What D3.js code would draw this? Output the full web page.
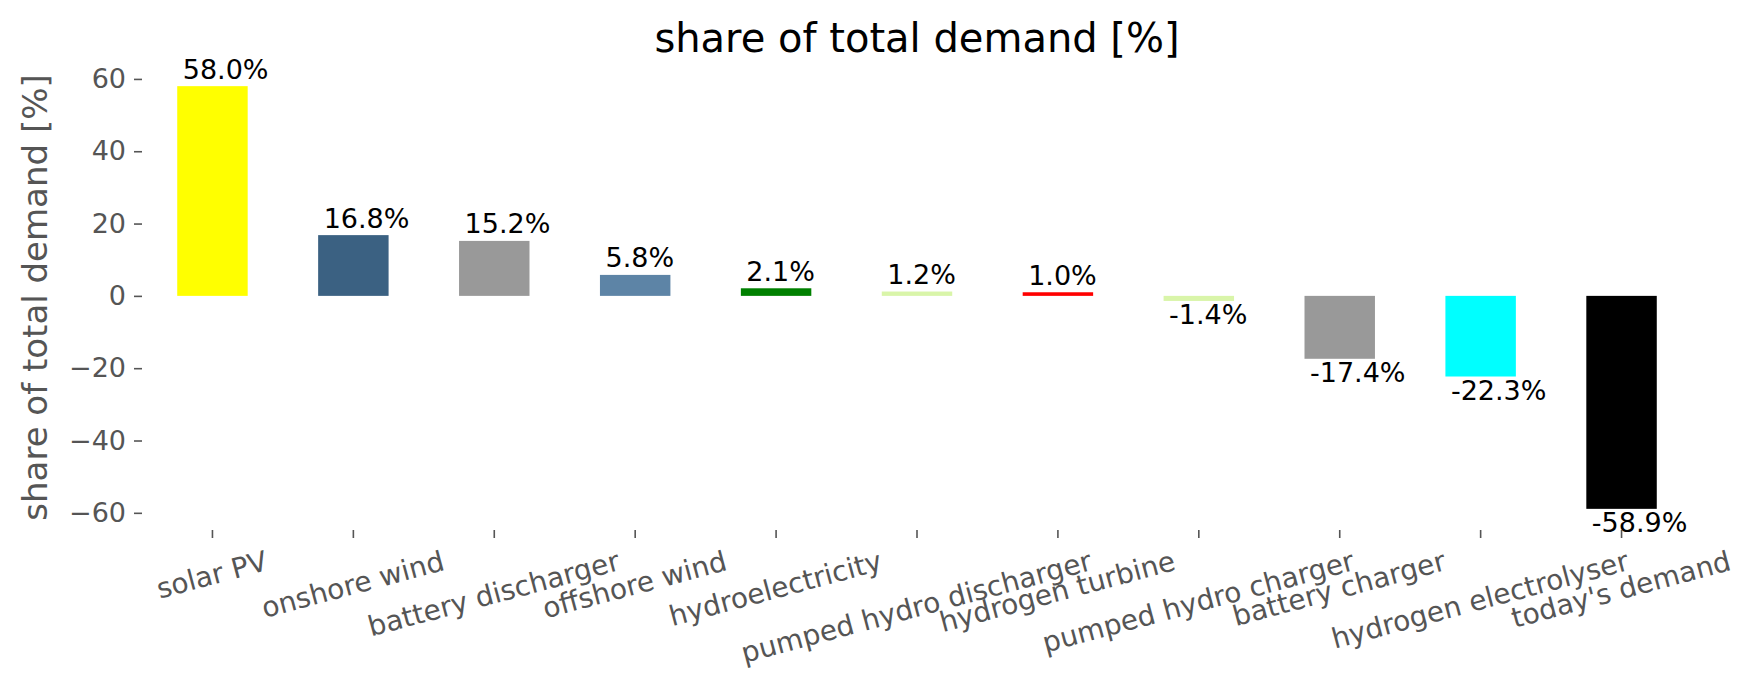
<!DOCTYPE html>
<html>
<head>
<meta charset="utf-8">
<script src="https://cdn.jsdelivr.net/npm/d3@7"></script>
<style>
  body { margin: 0; background: #fff; }
  svg { font-family: "DejaVu Sans", sans-serif; }
</style>
</head>
<body>
<svg width="1753" height="689"></svg>
<script>
// set data

const categories = ["solar PV", "onshore wind", "battery discharger", "offshore wind",
  "hydroelectricity", "pumped hydro discharger", "hydrogen turbine",
  "pumped hydro charger", "battery charger", "hydrogen electrolyser", "today's demand"];
const shares = [58.0, 16.8, 15.2, 5.8, 2.1, 1.2, 1.0, -1.4, -17.4, -22.3, -58.9];
const colors = ["#ffff00", "#3b6182", "#999999", "#5d84a6", "#008000", "#d9f5a9",
  "#ff0000", "#d9f5a9", "#999999", "#00ffff", "#000000"];
const yTicks = [-60, -40, -20, 0, 20, 40, 60];

// dimensions

const plotLeft = 142, plotRight = 1692, plotTop = 65, plotBottom = 530;
const gray = "#555555";

const svg = d3.select("svg");

// scales

const x = d3.scaleBand()
  .domain(categories)
  .range([plotLeft, plotRight])
  .paddingInner(0.5)
  .paddingOuter(0.25);

const y = d3.scaleLinear()
  .domain([-64.75, 63.85])
  .range([plotBottom, plotTop]);

// y axis

const yAxis = svg.append("g")
  .attr("transform", `translate(${plotLeft},0)`)
  .call(d3.axisLeft(y).tickValues(yTicks).tickSize(8).tickPadding(8));
yAxis.select(".domain").remove();
yAxis.selectAll("line").attr("stroke", gray).attr("stroke-width", 1.6);
yAxis.selectAll("text")
  .attr("fill", gray)
  .style("font-size", "27px")
  .style("font-family", "DejaVu Sans");

// x axis (ticks only, labels placed by hand below)

const xAxis = svg.append("g")
  .attr("transform", `translate(0,${plotBottom})`)
  .call(d3.axisBottom(x).tickSize(8));
xAxis.select(".domain").remove();
xAxis.selectAll("line").attr("stroke", gray).attr("stroke-width", 1.6);
xAxis.selectAll("text").remove();

// rotated tick labels, matplotlib style: rotate 15deg, then align bbox top-centre

const fs = 28, rot = 15 * Math.PI / 180;
const labelTop = plotBottom + 8 + 11;
const xl = svg.append("g");
categories.forEach(c => {
  const t = xl.append("text")
    .attr("text-anchor", "middle")
    .attr("fill", gray)
    .style("font-size", fs + "px")
    .text(c);
  const w = t.node().getComputedTextLength();
  const h = fs * 1.0;
  const H = w * Math.sin(rot) + h * Math.cos(rot);
  const cx = x(c) + x.bandwidth() / 2, cy = labelTop + H / 2;
  t.attr("transform", `translate(${cx},${cy}) rotate(-15)`)
   .attr("y", fs * 0.26);
});

// bars

svg.selectAll(".bar")
  .data(shares)
  .enter()
  .append("rect")
  .attr("class", "bar")
  .attr("x", (d, i) => x(categories[i]))
  .attr("y", d => y(Math.max(0, d)))
  .attr("width", x.bandwidth())
  .attr("height", d => Math.abs(y(d) - y(0)))
  .attr("fill", (d, i) => colors[i]);

// value labels

svg.selectAll(".label")
  .data(shares)
  .enter()
  .append("text")
  .attr("class", "label")
  .attr("x", (d, i) => x(categories[i]) + 5.5)
  .attr("y", d => d >= 0 ? y(d) - 7.5 : y(d) + 23)
  .style("font-size", "27px")
  .attr("fill", "#000")
  .text(d => d.toFixed(1) + "%");

// title and y label

svg.append("text")
  .attr("x", (plotLeft + plotRight) / 2)
  .attr("y", 52)
  .attr("text-anchor", "middle")
  .style("font-size", "40px")
  .attr("fill", "#000")
  .text("share of total demand [%]");

svg.append("text")
  .attr("transform", `translate(47,${(plotTop + plotBottom) / 2}) rotate(-90)`)
  .attr("text-anchor", "middle")
  .style("font-size", "34px")
  .attr("fill", gray)
  .text("share of total demand [%]");
</script>
</body>
</html>
